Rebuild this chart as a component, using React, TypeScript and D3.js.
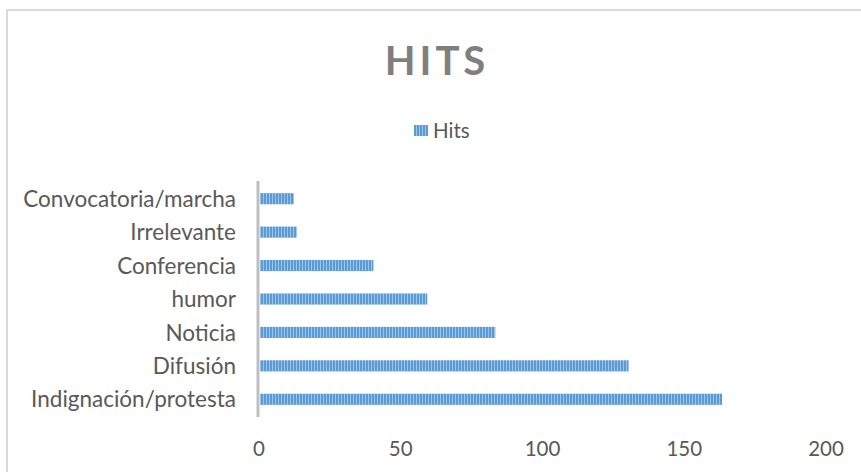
import React from "react";
import * as d3 from "d3";

const categories = [
  "Convocatoria/marcha",
  "Irrelevante",
  "Conferencia",
  "humor",
  "Noticia",
  "Difusión",
  "Indignación/protesta",
];
const hits = [12, 13, 40, 59, 83, 130, 163];
const xTicks = [0, 50, 100, 150, 200];
const seriesName = "Hits";
const title = "HITS";

const W = 861;
const H = 472;
const FONT = "Lato, 'Open Sans', sans-serif";

export default function App() {
  const x = d3.scaleLinear().domain([0, 200]).range([259, 826]);
  const y = d3
    .scaleBand<string>()
    .domain(categories)
    .range([182, 416])
    .paddingInner(2 / 3)
    .paddingOuter(1 / 3);
  const bw = y.bandwidth();

  return (
    <div style={{ position: "absolute", left: 0, top: 0 }}>
      <svg width={W} height={H} style={{ display: "block", background: "#fff" }}>
        <defs>
          <pattern id="stripes" patternUnits="userSpaceOnUse" width={3} height={4}>
            <rect x={0} y={0} width={3} height={4} fill="#9dc3e6" />
            <rect x={0} y={0} width={2} height={4} fill="#5b9bd5" />
          </pattern>
        </defs>
        <rect x={7} y={10} width={2000} height={2000} fill="none" stroke="#d9d9d9" strokeWidth={2} />
        <text
          x={437}
          y={75}
          textAnchor="middle"
          fontFamily={FONT}
          fontWeight="bold"
          fontSize={40}
          letterSpacing={4}
          fill="#7f7f7f"
        >
          {title}
        </text>
        <rect x={414} y={125} width={14} height={11} fill="url(#stripes)" />
        <text x={433} y={138} fontFamily={FONT} fontSize={20.5} fill="#595959">
          {seriesName}
        </text>
        {categories.map((c, i) => (
          <g key={c}>
            <rect
              x={x(0) + 1}
              y={y(c)!}
              width={x(hits[i]) - x(0)}
              height={bw}
              fill="url(#stripes)"
            />
            <text
              x={236}
              y={y(c)! + bw / 2}
              dy="0.36em"
              textAnchor="end"
              fontFamily={FONT}
              fontSize={22.5}
              fill="#595959"
            >
              {c}
            </text>
          </g>
        ))}
        <line x1={258} x2={258} y1={181} y2={417} stroke="#bfbfbf" strokeWidth={3} />
        {xTicks.map((t) => (
          <text
            key={t}
            x={x(t)}
            y={456}
            textAnchor="middle"
            fontFamily={FONT}
            fontSize={20.5}
            fill="#595959"
          >
            {t}
          </text>
        ))}
      </svg>
    </div>
  );
}
